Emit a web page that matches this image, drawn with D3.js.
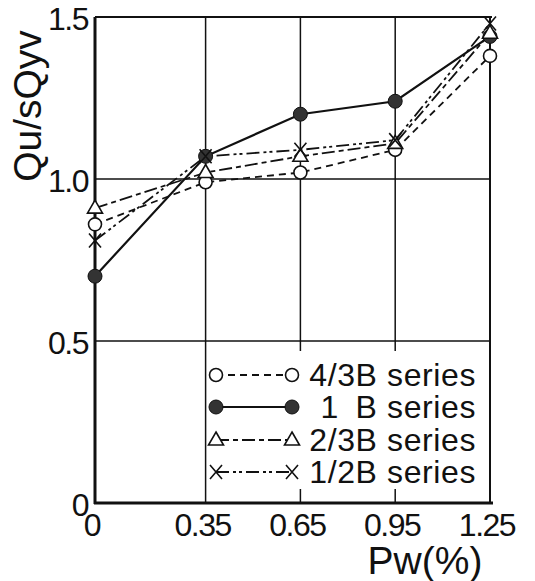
<!DOCTYPE html>
<html lang="en">
<head>
<meta charset="utf-8">
<script src="https://d3js.org/d3.v7.min.js"></script>
<style>
    body { margin: 0; background: #fff; }
    svg text { fill: #111; }
</style>
</head>
<body>
<div id="chart"></div>
<script>
    // data
    var pw = [0, 0.35, 0.65, 0.95, 1.25];
    var xTicks = [0, 0.35, 0.65, 0.95, 1.25];
    var xTickLabels = ["0", "0.35", "0.65", "0.95", "1.25"];
    var yTicks = [0, 0.5, 1.0, 1.5];
    var yTickLabels = ["0", "0.5", "1.0", "1.5"];

    var series43B = [0.86, 0.99, 1.02, 1.09, 1.38];
    var series1B  = [0.70, 1.07, 1.20, 1.24, 1.44];
    var series23B = [0.91, 1.02, 1.07, 1.11, 1.45];
    var series12B = [0.81, 1.07, 1.09, 1.12, 1.48];

    var seriesNames = ["4/3B series", "1\u2002B series", "2/3B series", "1/2B series"];
    var seriesValues = [series43B, series1B, series23B, series12B];
    var seriesDash = ["7,5", null, "13,4,5,4", "13,4,3,3,3,4"];
    var seriesMarker = ["circle", "dot", "triangle", "cross"];

    var w = 535, h = 581;
    var mLeft = 95, mRight = 490, mTop = 17, mBottom = 503;

    var svg = d3.select("#chart").append("svg")
        .attr("width", w)
        .attr("height", h);

    var x = d3.scaleLinear().domain([0, 1.25]).range([mLeft, mRight]);
    var y = d3.scaleLinear().domain([0, 1.5]).range([mBottom, mTop]);

    // grid
    svg.append("g").selectAll("line")
        .data(xTicks.slice(1, -1))
        .enter().append("line")
        .attr("x1", function(d) { return x(d); })
        .attr("x2", function(d) { return x(d); })
        .attr("y1", y(1.5)).attr("y2", y(0))
        .attr("stroke", "#111").attr("stroke-width", 1.5);
    svg.append("g").selectAll("line")
        .data(yTicks.slice(1, -1))
        .enter().append("line")
        .attr("x1", x(0)).attr("x2", x(1.25))
        .attr("y1", function(d) { return y(d); })
        .attr("y2", function(d) { return y(d); })
        .attr("stroke", "#111").attr("stroke-width", 1.5);

    // legend background hides grid lines under it
    svg.append("rect")
        .attr("x", x(0.35) + 2).attr("y", 351)
        .attr("width", x(1.25) - x(0.35) - 4).attr("height", 138)
        .attr("fill", "#fff");

    // frame
    svg.append("line").attr("x1", x(0)).attr("x2", x(1.25) + 2)
        .attr("y1", y(1.5)).attr("y2", y(1.5))
        .attr("stroke", "#111").attr("stroke-width", 2);
    svg.append("line").attr("x1", x(1.25)).attr("x2", x(1.25))
        .attr("y1", y(1.5)).attr("y2", y(0))
        .attr("stroke", "#111").attr("stroke-width", 2);
    svg.append("line").attr("x1", x(0)).attr("x2", x(0))
        .attr("y1", y(1.5)).attr("y2", y(0) + 1)
        .attr("stroke", "#111").attr("stroke-width", 3);
    svg.append("line").attr("x1", x(0) - 1).attr("x2", x(1.25) + 3)
        .attr("y1", y(0)).attr("y2", y(0))
        .attr("stroke", "#111").attr("stroke-width", 3);

    // tick labels
    var font = "'Liberation Sans', Arial, sans-serif";
    svg.append("g").selectAll("text")
        .data(yTicks)
        .enter().append("text")
        .attr("x", 88)
        .attr("y", function(d) { return y(d) + 13; })
        .attr("text-anchor", "end")
        .attr("font-family", font)
        .attr("font-size", 32)
        .attr("letter-spacing", -1.5)
        .text(function(d, i) { return yTickLabels[i]; });

    svg.append("g").selectAll("text")
        .data(xTicks)
        .enter().append("text")
        .attr("x", function(d) { return x(d) - 3; })
        .attr("y", 536)
        .attr("text-anchor", "middle")
        .attr("font-family", font)
        .attr("font-size", 32)
        .attr("letter-spacing", -1.5)
        .text(function(d, i) { return xTickLabels[i]; });

    // axis titles
    svg.append("text")
        .attr("transform", "translate(41,106) rotate(-90)")
        .attr("text-anchor", "middle")
        .attr("font-family", font)
        .attr("font-size", 39)
        .text("Qu/sQyv");
    svg.append("text")
        .attr("x", 425).attr("y", 574)
        .attr("text-anchor", "middle")
        .attr("font-family", font)
        .attr("font-size", 39)
        .text("Pw(%)");

    // markers
    function drawMarker(g, kind, cx, cy) {
        if (kind === "circle") {
            g.append("circle").attr("cx", cx).attr("cy", cy).attr("r", 6.5)
                .attr("fill", "#fff").attr("stroke", "#111").attr("stroke-width", 1.6);
        } else if (kind === "dot") {
            g.append("circle").attr("cx", cx).attr("cy", cy).attr("r", 7)
                .attr("fill", "#333").attr("stroke", "#111").attr("stroke-width", 1);
        } else if (kind === "triangle") {
            g.append("path")
                .attr("d", "M" + cx + "," + (cy - 8) + "L" + (cx + 7.5) + "," + (cy + 5) + "L" + (cx - 7.5) + "," + (cy + 5) + "Z")
                .attr("fill", "#fff").attr("stroke", "#111").attr("stroke-width", 1.6);
        } else {
            g.append("path")
                .attr("d", "M" + (cx - 6) + "," + (cy - 7) + "L" + (cx + 6) + "," + (cy + 7) +
                           "M" + (cx + 6) + "," + (cy - 7) + "L" + (cx - 6) + "," + (cy + 7))
                .attr("fill", "none").attr("stroke", "#111").attr("stroke-width", 1.6);
        }
    }

    // series lines
    var line = d3.line()
        .x(function(d, i) { return x(pw[i]); })
        .y(function(d) { return y(d); });

    seriesValues.forEach(function(vals, s) {
        svg.append("path")
            .datum(vals)
            .attr("d", line)
            .attr("fill", "none")
            .attr("stroke", "#111")
            .attr("stroke-width", s === 1 ? 2.2 : 1.8)
            .attr("stroke-dasharray", seriesDash[s]);
    });
    seriesValues.forEach(function(vals, s) {
        var g = svg.append("g");
        vals.forEach(function(v, i) { drawMarker(g, seriesMarker[s], x(pw[i]), y(v)); });
    });

    // legend
    var rowY = [375, 407, 440, 472];
    var lx1 = 216, lx2 = 292;
    seriesNames.forEach(function(name, s) {
        var g = svg.append("g");
        g.append("line")
            .attr("x1", lx1).attr("x2", lx2)
            .attr("y1", rowY[s]).attr("y2", rowY[s])
            .attr("stroke", "#111").attr("stroke-width", s === 1 ? 2.2 : 1.8)
            .attr("stroke-dasharray", seriesDash[s]);
        drawMarker(g, seriesMarker[s], lx1, rowY[s]);
        drawMarker(g, seriesMarker[s], lx2, rowY[s]);
        g.append("text")
            .attr("x", 476).attr("y", rowY[s] + 11)
            .attr("text-anchor", "end")
            .attr("font-family", font)
            .attr("font-size", 32)
            .attr("letter-spacing", 0.6)
            .text(name);
    });
</script>
</body>
</html>
